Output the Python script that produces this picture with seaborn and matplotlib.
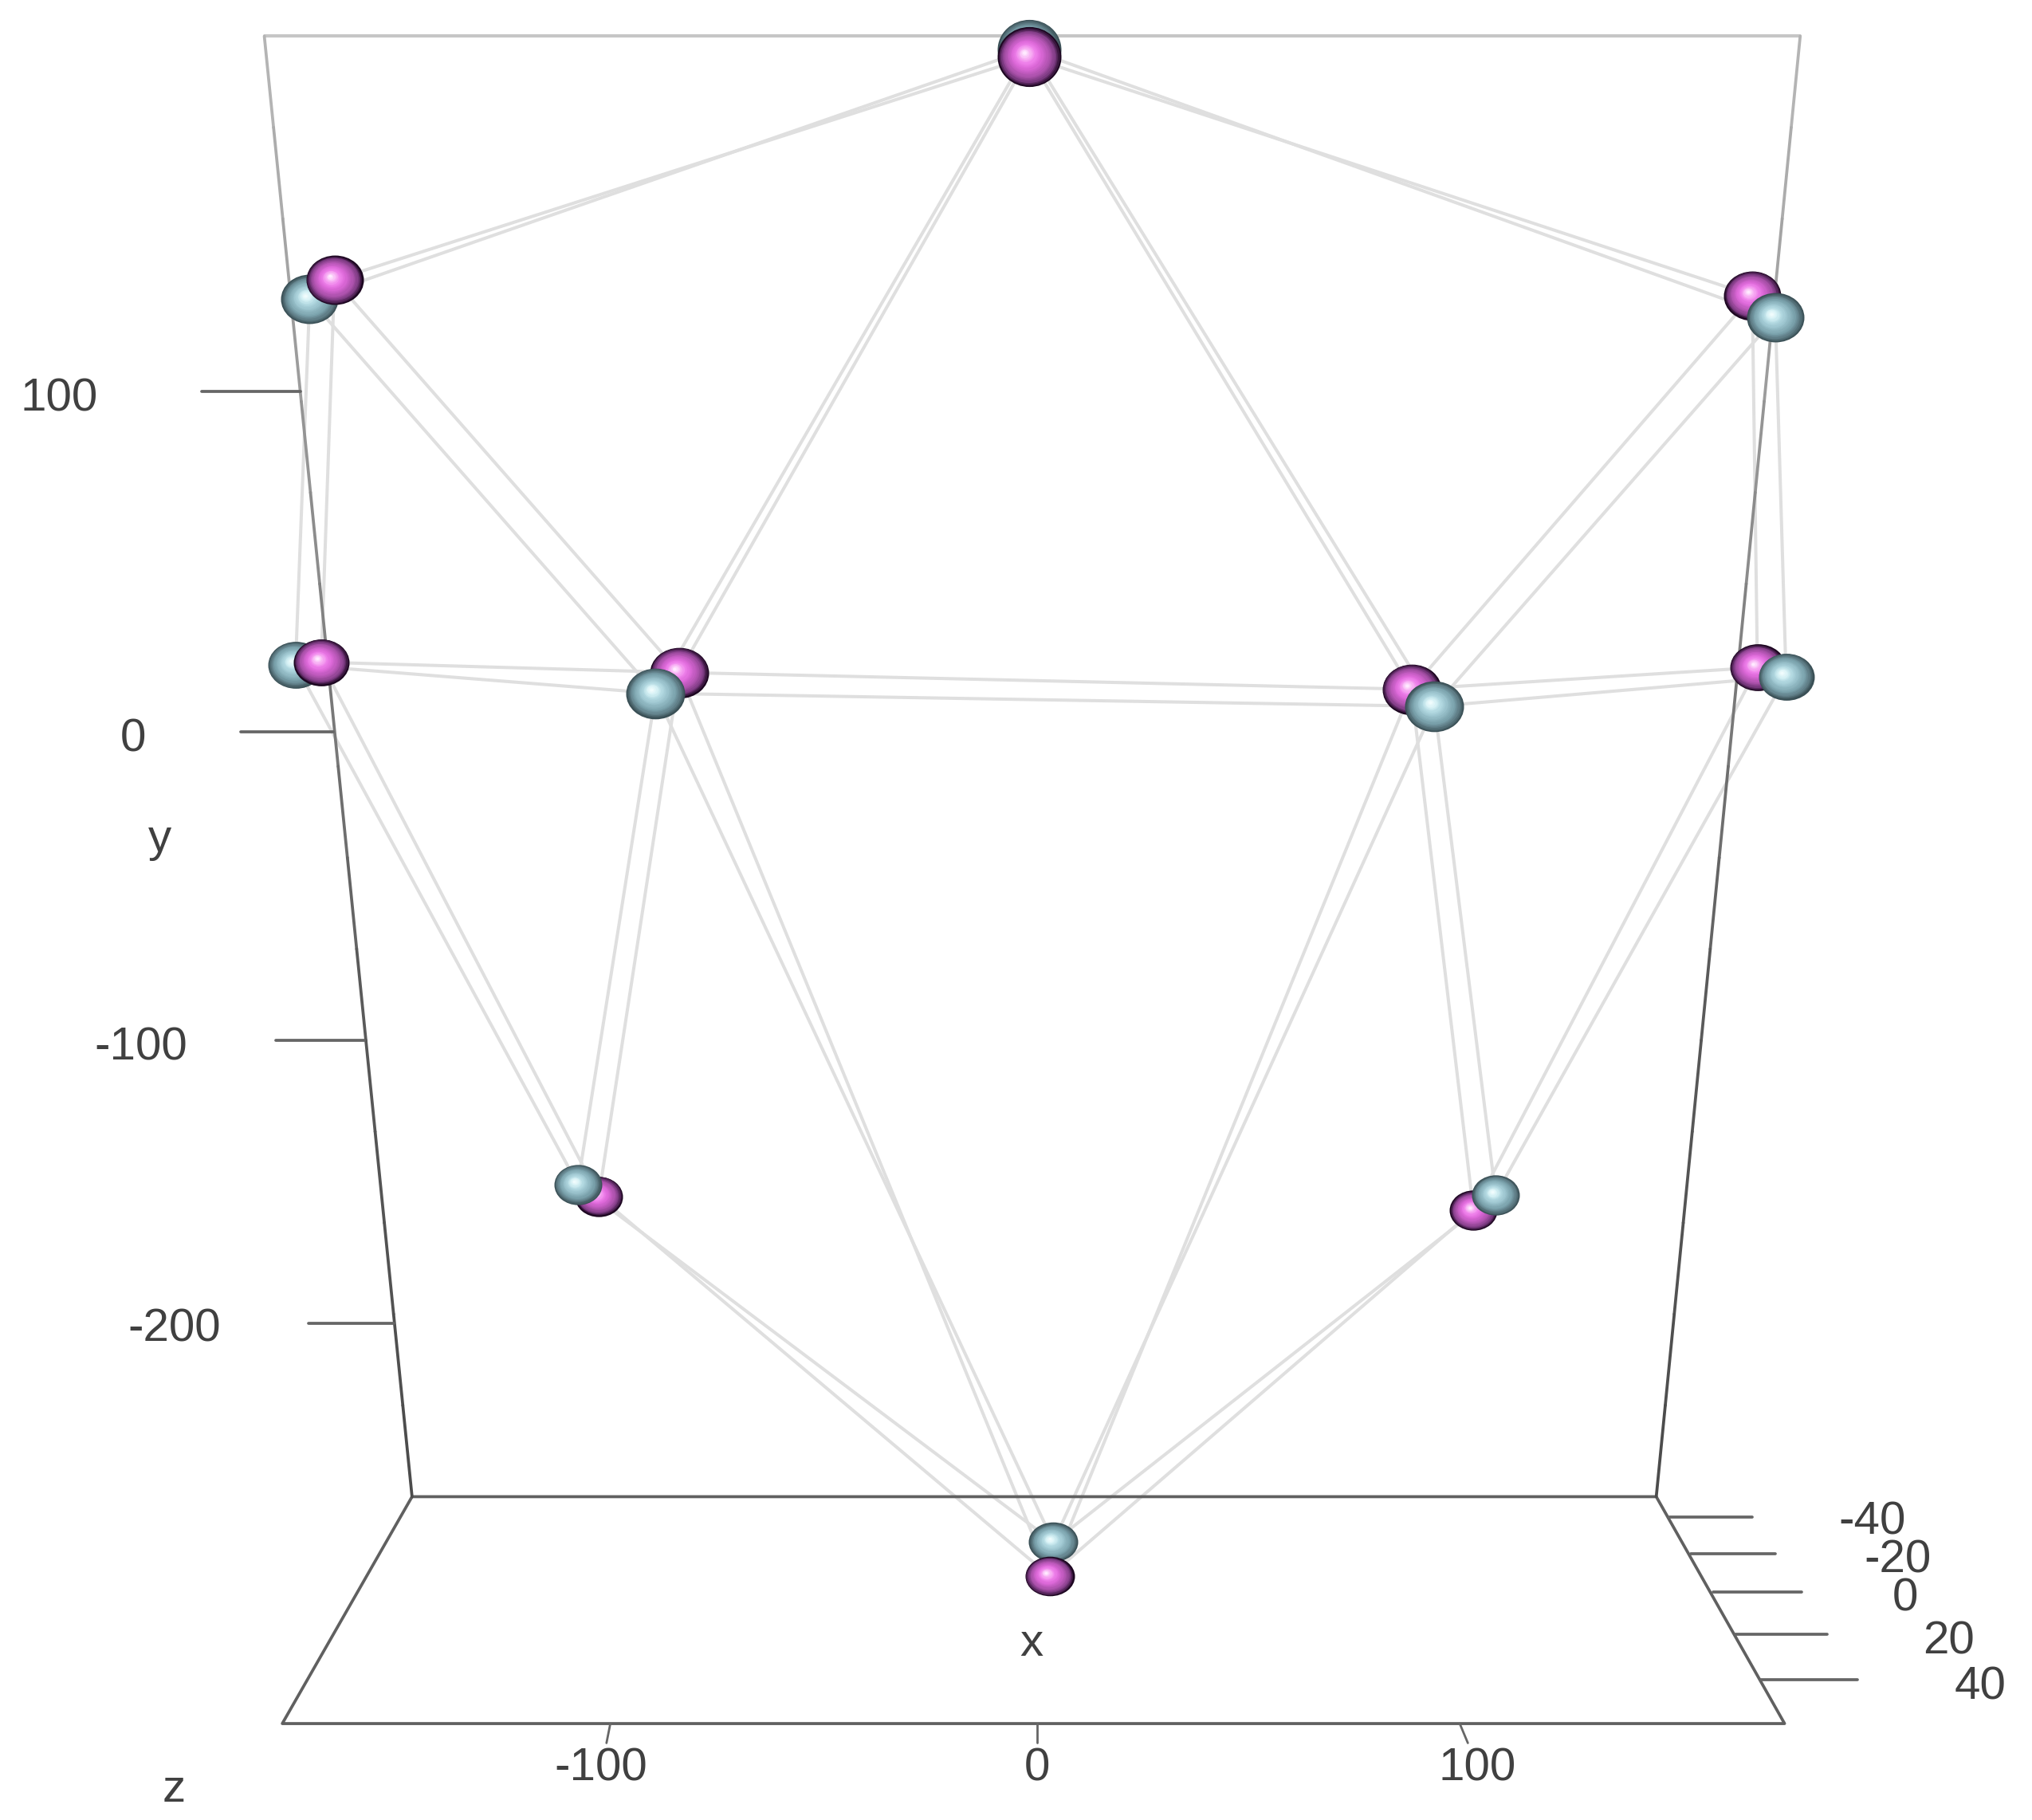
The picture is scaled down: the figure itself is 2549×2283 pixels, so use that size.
import numpy as np
import pandas as pd
import seaborn as sns
import matplotlib.pyplot as plt
from matplotlib.path import Path
from matplotlib.transforms import Affine2D

# node positions (x axis units, y axis units)
node_names = ["top", "upper_l", "mid_l", "inner_l", "inner_r", "mid_r", "upper_r", "low_l", "low_r", "bottom"]
blue_x = [-1.8, -170.0, -173.3, -89.1, 93.0, 175.2, 172.7, -107.3, 107.3, 3.9]
blue_y = [219.6, 139.2, 21.7, 12.5, 8.3, 17.9, 133.3, -145.4, -148.8, -260.4]
pink_x = [-1.8, -164.2, -167.3, -83.6, 87.6, 168.5, 167.3, -102.4, 102.1, 3.0]
pink_y = [217.1, 145.4, 22.5, 19.2, 13.8, 20.8, 140.4, -149.2, -153.8, -271.3]
node_width = [80, 72, 70, 74, 74, 70, 72, 60, 60, 62]
node_aspect = [0.94, 0.86, 0.84, 0.86, 0.86, 0.84, 0.86, 0.84, 0.84, 0.8]
pink_on_top = [True, True, True, False, False, False, False, False, False, True]

edges = [("top", "upper_l"), ("top", "upper_r"), ("top", "inner_l"), ("top", "inner_r"),
         ("upper_l", "mid_l"), ("upper_l", "inner_l"), ("upper_r", "mid_r"), ("upper_r", "inner_r"),
         ("mid_l", "inner_l"), ("inner_l", "inner_r"), ("inner_r", "mid_r"),
         ("mid_l", "low_l"), ("inner_l", "low_l"), ("inner_r", "low_r"), ("mid_r", "low_r"),
         ("low_l", "bottom"), ("low_r", "bottom"), ("inner_l", "bottom"), ("inner_r", "bottom")]

# bounding box, same units
top_x = [-180.6, 178.5]
top_y = [223.75, 223.75]
left_x = [-180.6, -146.06]
right_x = [178.5, 144.85]
side_y = [223.75, -245.8]
floor_x = [-146.06, -176.4, 174.85, 144.85, -146.06]
floor_y = [-245.8, -318.75, -318.75, -245.8, -245.8]

x_ticks = ["-100", "0", "100"]
x_tick_base = [-99.7, 0, 98.9]
x_tick_end = [-100.6, 0, 100.8]
x_tick_text = [-102, 0, 103]
y_tick_pos = [109.6, 0, -99.2, -190]
y_tick_labels = ["100", "0", "-100", "-200"]
y_tick_left = [-195.2, -186.1, -177.9, -170.3]
y_tick_right = [-172.1, -164.5, -157.3, -150.3]
y_text_x = [-228.5, -211.2, -209.5, -201.6]
y_text_y = [107.1, -2.45, -101.6, -192.0]
z_tick_labels = ["-40", "-20", "0", "20", "40"]
z_tick_pos = [-252.4, -264.2, -276.5, -290.0, -304.7]
z_tick_left = [147.9, 153.0, 158.2, 163.3, 169.4]
z_tick_right = [167.3, 172.7, 178.8, 184.8, 191.8]
z_text_x = [195.3, 201.3, 203.0, 213.3, 220.6]
z_text_y = [-254.1, -266.2, -278.7, -292.5, -307.0]

blue_stops = ["#3a5056", "#607f88", "#79a0aa", "#8cb4be", "#a0c8d2", "#b4dae2", "#d6f1f5", "#f0fcfd"]
pink_stops = ["#1c0620", "#7a3a80", "#a850a8", "#c45cc2", "#de6ada", "#ee80ea", "#f8b0f4", "#ffeaff"]
n_layers = 22

sns.set_theme(style="white")
plt.rcParams["font.family"] = ["Liberation Sans", "DejaVu Sans"]

fig = plt.figure(figsize=(25.49, 22.83), dpi=100)
ax = fig.add_axes([0, 0, 1, 1])
ax.set_xlim(-242.4, 232.7)
ax.set_ylim(-349.75, 235.4)
ax.axis("off")

blue = pd.DataFrame({"x": blue_x, "y": blue_y}, index=node_names)
pink = pd.DataFrame({"x": pink_x, "y": pink_y}, index=node_names)


def seg(xs, ys, col, lw=2.7, z=3):
    sns.lineplot(x=xs, y=ys, color=col, lw=lw, ax=ax, sort=False, estimator=None, legend=False, zorder=z)


# the box, sides go from pale at the top to dark at the floor
seg(top_x, top_y, "#c6c6c6", lw=3.0)
seg(floor_x, floor_y, "#606060")
side_cols = sns.blend_palette(["#b4b4b4", "#8c8c8c", "#5a5a5a", "#4c4c4c"], 16)
for sx in [left_x, right_x]:
    xs = np.linspace(sx[0], sx[1], 17)
    ys = np.linspace(side_y[0], side_y[1], 17)
    for i, col in enumerate(side_cols):
        seg(list(xs[i:i + 2]), list(ys[i:i + 2]), col)

# edges of both shapes
for shape in [blue, pink]:
    for a, b in edges:
        seg([shape.x[a], shape.x[b]], [shape.y[a], shape.y[b]], "#dfdfdf", lw=2.9, z=2)

# axis ticks
for pos, l, r in zip(y_tick_pos, y_tick_left, y_tick_right):
    seg([l, r], [pos, pos], "#666666")
for pos, l, r in zip(z_tick_pos, z_tick_left, z_tick_right):
    seg([l, r], [pos, pos], "#666666")
for b, e in zip(x_tick_base, x_tick_end):
    seg([b, e], [-318.75, -325.0], "#666666", lw=2.0)

txt = dict(color="#404040", fontsize=42, ha="center", va="center")
for lab, tx, ty in zip(y_tick_labels, y_text_x, y_text_y):
    ax.text(tx, ty, lab, **txt)
for lab, tx, ty in zip(z_tick_labels, z_text_x, z_text_y):
    ax.text(tx, ty, lab, **txt)
for lab, tx in zip(x_ticks, x_tick_text):
    ax.text(tx, -333.2, lab, **txt)
ax.text(-205, -34.5, "y", **txt)
ax.text(-1.2, -293.2, "x", **txt)
ax.text(-201.8, -340, "z", **txt)


# spheres are stacks of shrinking ellipses
def draw_sphere(px, py, width, aspect, stops, z):
    circle = Path.unit_circle()
    ellipse = Path(Affine2D().scale(1.0, aspect).transform_path(circle).vertices, circle.codes)
    shades = sns.blend_palette(stops, n_layers)
    for j, k in enumerate(np.linspace(1.0, 0.06, n_layers)):
        size = (width * k * 0.72) ** 2
        # highlight sits a bit up and left of the middle
        dx = -(1 - k) * width * 0.08 / 5.365
        dy = (1 - k) * width * 0.07 / 3.9
        sns.scatterplot(x=[px + dx], y=[py + dy], s=size, color=shades[j], marker=ellipse,
                        linewidth=0, ax=ax, legend=False, zorder=z + j * 0.01)


for n, name in enumerate(node_names):
    w = node_width[n]
    a = node_aspect[n]
    if pink_on_top[n]:
        draw_sphere(blue.x[name], blue.y[name], w, a, blue_stops, 5)
        draw_sphere(pink.x[name], pink.y[name], w, a, pink_stops, 6)
    else:
        draw_sphere(pink.x[name], pink.y[name], w, a, pink_stops, 5)
        draw_sphere(blue.x[name], blue.y[name], w, a, blue_stops, 6)

fig.savefig("out.png", dpi=100, facecolor="white")
